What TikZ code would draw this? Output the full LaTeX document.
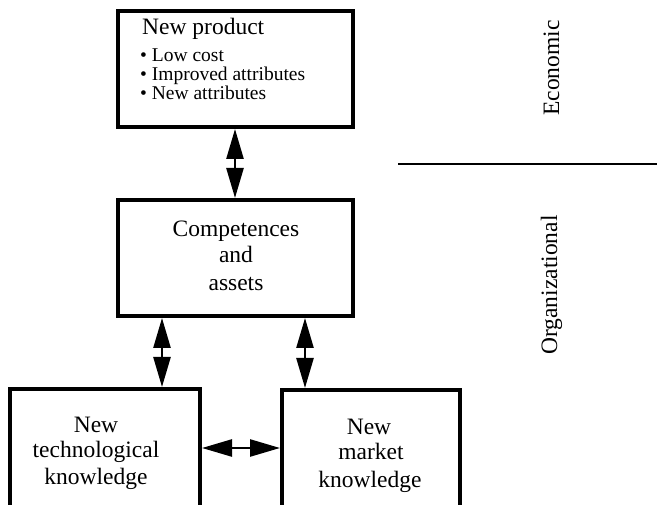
\documentclass[tikz,border=0pt]{standalone}
\usepackage{fontspec}
\setmainfont{Liberation Serif}
\usetikzlibrary{arrows.meta}

\tikzset{
  box/.style={draw, line width=4pt, inner sep=0pt},
  txt/.style={font=\fontsize{23.5}{27}\selectfont, inner sep=0pt},
  bul/.style={font=\fontsize{19.5}{19}\selectfont, inner sep=0pt, anchor=base west},
  dbl/.style={line width=2.5pt, {Triangle[length=30pt,width=17pt]}-{Triangle[length=30pt,width=17pt]}},
  divider/.style={line width=2.6pt},
}

\begin{document}
\begin{tikzpicture}[x=1pt, y=-1pt]
  \useasboundingbox (0,0) rectangle (657,505);
  \clip (0,0) rectangle (657,505);

  % boxes (the two lower ones run past the bottom edge)
  \node[box, minimum width=235pt, minimum height=115.5pt] (prod) at (235,69.25) {};
  \node[box, minimum width=235pt, minimum height=116pt]   (comp) at (235,258) {};
  \node[box, minimum width=190.5pt, minimum height=171pt] (tech) at (104.75,474.5) {};
  \node[box, minimum width=178pt, minimum height=170pt]   (mkt)  at (371,475) {};

  % new product
  \node[txt, anchor=base west] (prodt) at (142,35) {New product};
  \node[bul] (b1) at (140,62)  {\textbullet\ Low cost};
  \node[bul] (b2) at (140,81)  {\textbullet\ Improved attributes};
  \node[bul] (b3) at (140,100) {\textbullet\ New attributes};

  % competences and assets
  \node[txt, anchor=base] (c1) at (236,237) {Competences};
  \node[txt, anchor=base] (c2) at (236,263) {and};
  \node[txt, anchor=base] (c3) at (236,291) {assets};

  % new technological knowledge
  \node[txt, anchor=base] (t1) at (96,433) {New};
  \node[txt, anchor=base] (t2) at (96,458) {technological};
  \node[txt, anchor=base] (t3) at (96,485) {knowledge};

  % new market knowledge
  \node[txt, anchor=base] (m1) at (369,435) {New};
  \node[txt, anchor=base] (m2) at (371,460) {market};
  \node[txt, anchor=base] (m3) at (370,487) {knowledge};

  % two-way links
  \coordinate (lx) at (162,0);
  \coordinate (rx) at (305,0);
  \coordinate (hy) at (0,448);
  \draw[dbl] (prod.south) -- (comp.north);
  \draw[dbl] (lx |- comp.south) -- (lx |- tech.north);
  \draw[dbl] (rx |- comp.south) -- (rx |- mkt.north);
  \draw[dbl] (tech.east |- hy) -- (mkt.west |- hy);

  % level labels and divider
  \coordinate (dl) at (398,164);
  \coordinate (dr) at (657,164);
  \draw[divider] (dl) -- (dr);
  \node[txt, rotate=90, anchor=base] (econ) at (559,68) {Economic};
  \node[txt, rotate=90, anchor=base] (org)  at (557,285) {Organizational};
\end{tikzpicture}
\end{document}
